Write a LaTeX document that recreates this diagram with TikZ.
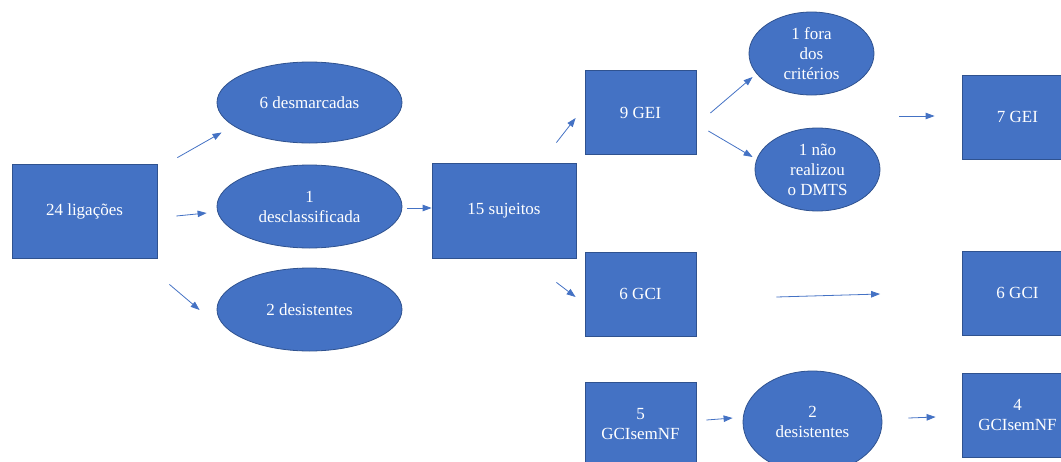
\documentclass[tikz,border=0pt]{standalone}
\usepackage{fontspec}
\setmainfont{Liberation Serif}
\usetikzlibrary{arrows.meta,shapes.geometric}
\definecolor{azul}{HTML}{4472C4}
\definecolor{borda}{HTML}{2F528F}
\begin{document}
\begin{tikzpicture}[x=1pt,y=-1pt,
  caixa/.style={draw=borda,line width=0.8pt,fill=azul,text=white,align=center,inner sep=0pt,
    font=\fontsize{17}{20}\selectfont},
  ret/.style={caixa,rectangle,minimum width=111pt,minimum height=84pt},
  oval/.style={caixa,ellipse,inner sep=0pt},
  seta/.style={draw=azul,line width=0.8pt,-{Triangle[length=9pt,width=6.5pt]}}]
\useasboundingbox (0,0) rectangle (1061,461);
\clip (0,0) rectangle (1061,461);

\node[ret,minimum width=145pt,minimum height=94pt] (lig) at (84.5,211) {24 ligações};
\node[oval,minimum width=185pt,minimum height=81pt] (desm) at (309.5,102.5) {6 desmarcadas};
\node[oval,minimum width=185pt,minimum height=83pt] (desc) at (309.5,206.5) {1\\desclassificada};
\node[oval,minimum width=185pt,minimum height=83pt] (des2) at (309.5,309.5) {2 desistentes};
\node[ret,minimum width=144pt,minimum height=95pt] (suj) at (504,210.5) {15 sujeitos};

\node[ret] (gei9) at (640.5,112.5) {9 GEI};
\node[ret] (gci6) at (640.5,294) {6 GCI};
\node[ret] (sem5) at (640.5,424) {5\\GCIsemNF};

\node[oval,minimum width=125pt,minimum height=83pt] (fora) at (811.5,53.5) {1 fora\\dos\\critérios};
\node[oval,minimum width=125pt,minimum height=83pt] (nao) at (817.5,169.5) {1 não\\realizou\\o DMTS};
\node[oval,minimum width=139pt,minimum height=102pt] (des3) at (812.5,422) {2\\desistentes};

\node[ret] (gei7) at (1017.5,117) {7 GEI};
\node[ret] (gci6b) at (1017.5,293) {6 GCI};
\node[ret] (sem4) at (1017.5,415) {4\\GCIsemNF};

\draw[seta] ([shift={(20,-6)}]lig.north east) -- ([shift={(5,30)}]desm.west);
\draw[seta] ([shift={(19,5)}]lig.east) -- ([shift={(-10,6.5)}]desc.west);
\draw[seta] ([shift={(12,26)}]lig.south east) -- ([shift={(-17,0.5)}]des2.west);
\draw[seta] ([shift={(5,1.5)}]desc.east) -- ([shift={(0,-2.5)}]suj.west);
\draw[seta] ([shift={(-20,-20)}]suj.north east) -- ([shift={(-9,5.5)}]gei9.west);
\draw[seta] ([shift={(-20,24)}]suj.south east) -- ([shift={(-9,3)}]gci6.west);
\draw[seta] ([shift={(14,0.5)}]gei9.east) -- ([shift={(4,23.5)}]fora.west);
\draw[seta] ([shift={(12,18.5)}]gei9.east) -- ([shift={(-2,-12.5)}]nao.west);
\draw[seta] ([shift={(203,3.5)}]gei9.east) -- ([shift={(-27,-1)}]gei7.west);
\draw[seta] ([shift={(80,3)}]gci6.east) -- ([shift={(-81.5,1)}]gci6b.west);
\draw[seta] ([shift={(10,-4)}]sem5.east) -- ([shift={(-10,-4)}]des3.west);
\draw[seta] ([shift={(26,-4)}]des3.east) -- ([shift={(-26,2)}]sem4.west);
\end{tikzpicture}
\end{document}
